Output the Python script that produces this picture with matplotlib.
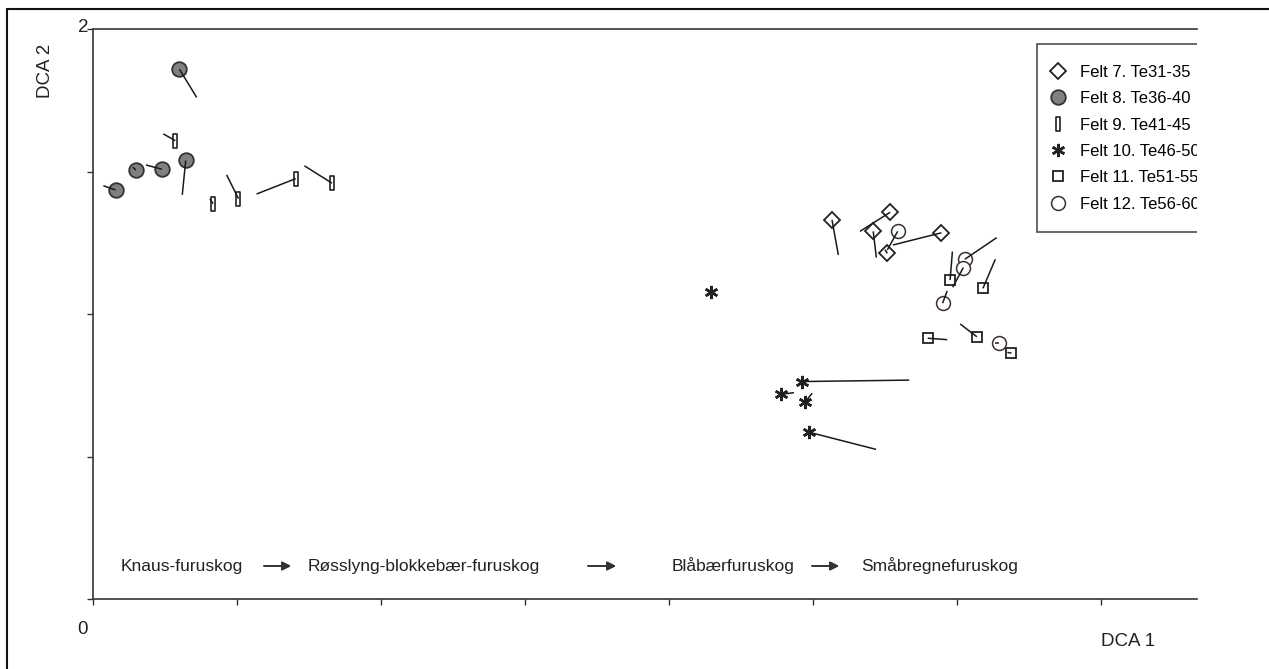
import matplotlib
matplotlib.use("Agg")
import matplotlib.pyplot as plt
from matplotlib.path import Path
from matplotlib.patches import Rectangle
import numpy as np

plt.rcParams['font.family'] = ['Liberation Sans', 'DejaVu Sans']

# DCA scores: marker position (x, y) and the end of each shift line (x2, y2)
felt7_x = [2.566, 2.768, 2.709, 2.758, 2.946]
felt7_y = [1.330, 1.357, 1.290, 1.213, 1.285]
felt7_x2 = [2.588, 2.663, 2.720, 2.750, 2.777]
felt7_y2 = [1.207, 1.290, 1.198, 1.226, 1.242]

felt8_x = [0.300, 0.322, 0.239, 0.149, 0.079]
felt8_y = [1.859, 1.539, 1.508, 1.505, 1.435]
felt8_x2 = [0.360, 0.310, 0.184, 0.138, 0.036]
felt8_y2 = [1.760, 1.418, 1.523, 1.515, 1.450]

felt9_x = [0.286, 0.417, 0.505, 0.704, 0.830]
felt9_y = [1.608, 1.387, 1.405, 1.475, 1.459]
felt9_x2 = [0.244, 0.406, 0.464, 0.568, 0.734]
felt9_y2 = [1.632, 1.404, 1.488, 1.421, 1.520]

felt10_x = [2.146, 2.463, 2.388, 2.472, 2.487]
felt10_y = [1.076, 0.763, 0.718, 0.690, 0.585]
felt10_x2 = [2.146, 2.834, 2.434, 2.497, 2.719]
felt10_y2 = [1.076, 0.768, 0.724, 0.722, 0.525]

felt11_x = [2.976, 3.090, 2.898, 3.069, 3.189]
felt11_y = [1.119, 1.090, 0.915, 0.920, 0.863]
felt11_x2 = [2.984, 3.133, 2.966, 3.011, 3.175]
felt11_y2 = [1.219, 1.192, 0.910, 0.965, 0.865]

felt12_x = [2.794, 3.027, 3.022, 2.950, 3.147]
felt12_y = [1.290, 1.192, 1.163, 1.038, 0.899]
felt12_x2 = [2.758, 3.138, 2.985, 2.966, 3.131]
felt12_y2 = [1.225, 1.268, 1.094, 1.081, 0.899]

labels = ["Felt 7. Te31-35", "Felt 8. Te36-40", "Felt 9. Te41-45",
          "Felt 10. Te46-50", "Felt 11. Te51-55", "Felt 12. Te56-60"]

succession = ["Knaus-furuskog", "Røsslyng-blokkebær-furuskog",
              "Blåbærfuruskog", "Småbregnefuruskog"]

# tall thin rectangle marker for Felt 9
bar_marker = Path([(-0.32, -1), (0.32, -1), (0.32, 1), (-0.32, 1), (-0.32, -1)],
                  [Path.MOVETO, Path.LINETO, Path.LINETO, Path.LINETO, Path.CLOSEPOLY])

groups = [
    (felt7_x, felt7_y, felt7_x2, felt7_y2, dict(marker='D', ms=8, mfc='white', mec='#222222', mew=1.3)),
    (felt8_x, felt8_y, felt8_x2, felt8_y2, dict(marker='o', ms=10.5, mfc='#808080', mec='#333333', mew=1.3)),
    (felt9_x, felt9_y, felt9_x2, felt9_y2, dict(marker=bar_marker, ms=10.5, mfc='white', mec='#222222', mew=1.2)),
    (felt10_x, felt10_y, felt10_x2, felt10_y2, dict(marker=(6, 2, 0), ms=9.5, mfc='#222222', mec='#222222', mew=1.8)),
    (felt11_x, felt11_y, felt11_x2, felt11_y2, dict(marker='s', ms=7, mfc='white', mec='#222222', mew=1.3)),
    (felt12_x, felt12_y, felt12_x2, felt12_y2, dict(marker='o', ms=10, mfc='white', mec='#3a3035', mew=1.1)),
]

fig = plt.figure(figsize=(12.69, 6.69), dpi=100)
ax = fig.add_axes([93 / 1269, 1 - 599 / 669, (1197 - 93) / 1269, (599 - 29) / 669])

handles = []
for (x, y, x2, y2, style), lab in zip(groups, labels):
    h, = ax.plot(x, y, ls='none', label=lab, zorder=3, **style)
    handles.append(h)
    for a, b, c, d in zip(x, y, x2, y2):
        ax.plot([a, c], [b, d], color='#1a1a1a', lw=1.1, zorder=4, solid_capstyle='butt')

ax.set_xlim(0, 3.8333)
ax.set_ylim(0, 2)
ax.set_xticks(np.arange(0, 3.6, 0.5))
ax.set_yticks(np.arange(0, 2.01, 0.5))
ax.tick_params(axis='both', direction='out', length=4, width=1, color='#333333',
               labelbottom=False, labelleft=False)
for side in ['left', 'bottom', 'top']:
    ax.spines[side].set_color('#333333')
    ax.spines[side].set_linewidth(1.2)
ax.spines['right'].set_visible(False)

leg = ax.legend(handles=handles, loc='upper left',
                bbox_to_anchor=(1037 / 1269, 1 - 44 / 669), bbox_transform=fig.transFigure,
                fontsize=12, frameon=True, fancybox=False, borderaxespad=0,
                borderpad=1.25, labelspacing=0.68, handlelength=0.0, handletextpad=1.35)
leg.get_frame().set_edgecolor('#222222')
leg.get_frame().set_linewidth(1.2)
for art in leg.findobj():
    art.set_clip_on(True)
    art.set_clip_box(ax.bbox)

# succession text along the bottom with arrows
txt_y = 1 - 566 / 669
for name, xc in zip(succession, [182, 424, 733, 940]):
    fig.text(xc / 1269, txt_y, name, fontsize=12.5, va='center', ha='center', color='#222222')
for x0, x1 in [(264, 291), (588, 616), (812, 839)]:
    fig.add_artist(plt.annotate('', xy=(x1 / 1269, txt_y), xytext=(x0 / 1269, txt_y),
                                xycoords='figure fraction', textcoords='figure fraction',
                                arrowprops=dict(arrowstyle='-|>', color='#333333', lw=1.2,
                                                mutation_scale=13, shrinkA=0, shrinkB=0)))

fig.text(45 / 1269, 1 - 71 / 669, "DCA 2", rotation=90, fontsize=13.5, ha='center', va='center', color='#222222')
fig.text(1128 / 1269, 1 - 641 / 669, "DCA 1", fontsize=13.5, ha='center', va='center', color='#222222')
fig.text(83 / 1269, 1 - 629 / 669, "0", fontsize=13.5, ha='center', va='center', color='#222222')
fig.text(83 / 1269, 1 - 27 / 669, "2", fontsize=13.5, ha='center', va='center', color='#222222')

fig.add_artist(Rectangle((7 / 1269, -0.1), 1.2, 1 - 9 / 669 + 0.1, transform=fig.transFigure,
                         fill=False, edgecolor='#111111', lw=1.5))

fig.savefig('out.png', dpi=100, facecolor='white')
